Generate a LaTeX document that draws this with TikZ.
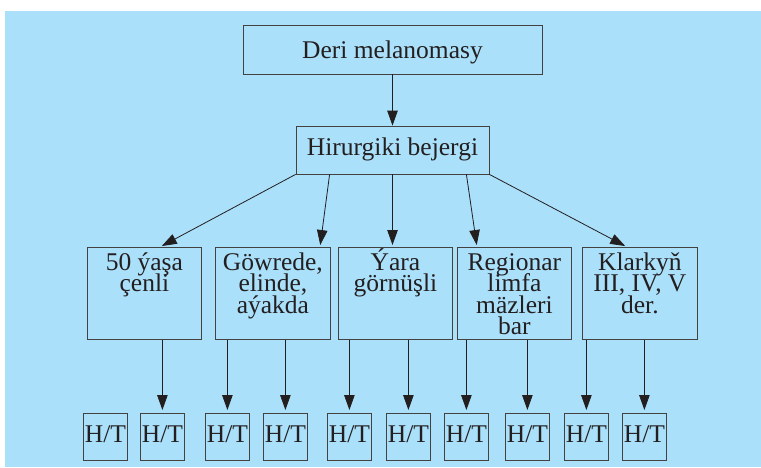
\documentclass[tikz,border=0pt]{standalone}
\usepackage{fontspec}
\setmainfont{Liberation Serif}
\usetikzlibrary{arrows.meta,calc}
\definecolor{bgblue}{RGB}{170,224,250}
\definecolor{ink}{RGB}{35,31,32}
\newcommand\lvltext[2]{\parbox[t][92pt][t]{#1}{\centering\lineskiplimit=-100pt\rule{0pt}{23pt}#2}}
\begin{document}
\begin{tikzpicture}[x=1pt,y=-1pt,
  every node/.style={font=\fontsize{25.5}{21.5}\selectfont, text=ink},
  box/.style={draw=ink!85, line width=0.8pt, inner sep=0pt, anchor=north west},
  arr/.style={draw=ink, line width=0.8pt, -{Triangle[length=15pt,width=10.5pt]}},
  ht/.style={box, minimum width=44pt, minimum height=47pt, text height=17pt, text depth=5pt},
  ]
\useasboundingbox (0,0) rectangle (761,467);
\fill[white] (0,0) rectangle (761,467);
\fill[bgblue] (5,11) rectangle (761,467);

\node[box, anchor=center, minimum width=299pt, minimum height=49pt, text height=20pt, text depth=3pt] (top) at (392.5,49.5) {Deri melanomasy};
\node[box, anchor=center, minimum width=193pt, minimum height=48pt, text height=17pt, text depth=7pt] (hir) at (392.5,150) {Hirurgiki bejergi};

\node[box] (b1) at (87,247)  {\lvltext{114pt}{50 ýaşa\\çenli}};
\node[box] (b2) at (215,247) {\lvltext{115pt}{Göwrede,\\elinde,\\aýakda}};
\node[box] (b3) at (338,247) {\lvltext{114pt}{Ýara\\görnüşli}};
\node[box] (b4) at (457,247) {\lvltext{114pt}{Regionar\\limfa\\mäzleri\\bar}};
\node[box] (b5) at (582,247) {\lvltext{115pt}{Klarkyň\\III, IV, V\\der.}};

\node[ht] (h1)  at (83,413)  {H/T};
\node[ht] (h2)  at (140,413) {H/T};
\node[ht] (h3)  at (205,413) {H/T};
\node[ht] (h4)  at (263,413) {H/T};
\node[ht] (h5)  at (327,413) {H/T};
\node[ht] (h6)  at (386,413) {H/T};
\node[ht] (h7)  at (444,413) {H/T};
\node[ht] (h8)  at (505,413) {H/T};
\node[ht] (h9)  at (564,413) {H/T};
\node[ht] (h10) at (622,413) {H/T};

\draw[arr] (top.south) -- (hir.north);
\draw[arr, shorten >=2pt] (hir.south west) -- ($(b1.north west)+(73,0)$);
\draw[arr, shorten >=2pt] ($(hir.south west)+(34,0)$) -- ($(b2.north west)+(105,0)$);
\draw[arr, shorten >=2pt] (hir.south) -- (hir.south |- b3.north);
\draw[arr, shorten >=2pt] ($(hir.south east)+(-23,0)$) -- ($(b4.north west)+(20,0)$);
\draw[arr, shorten >=2pt] (hir.south east) -- ($(b5.north west)+(45,0)$);

\foreach \b/\h in {b1/h2, b2/h3, b2/h4, b3/h5, b3/h6, b4/h7, b4/h8, b5/h9, b5/h10}
  \draw[arr, shorten >=3pt] (\h.north |- \b.south) -- (\h.north);
\end{tikzpicture}
\end{document}
